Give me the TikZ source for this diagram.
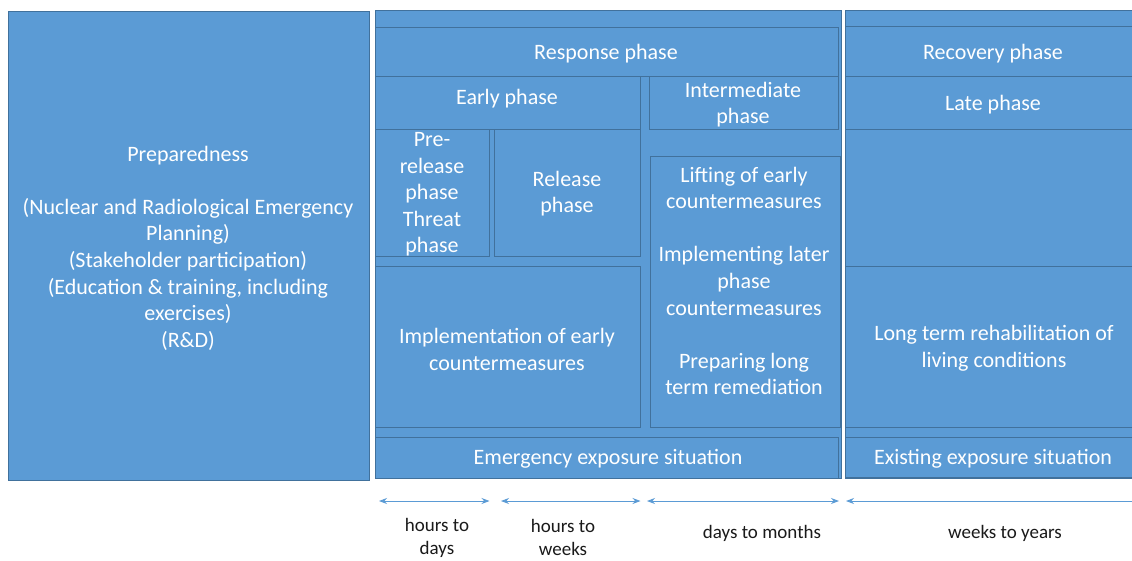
\documentclass[tikz,border=0pt]{standalone}
\usepackage{fontspec}
\setmainfont{Carlito}
\usetikzlibrary{arrows.meta}
\definecolor{boxfill}{HTML}{5B9BD5}
\definecolor{boxline}{HTML}{41719C}
\definecolor{labtext}{HTML}{1A1A1A}
\begin{document}
\begin{tikzpicture}[x=1pt,y=-1pt,
  cell/.style={draw=boxline,fill=boxfill,line width=0.9pt},
  celltext/.style={text=white,font=\fontsize{22}{26.6}\selectfont,align=center,inner sep=0pt,yshift=-2pt},
  lab/.style={text=labtext,font=\fontsize{19}{23}\selectfont,align=center,inner sep=0pt,yshift=-1.5pt},
  span/.style={draw=boxfill,line width=0.9pt},
  tip/.tip={Stealth[length=8pt,width=6pt]}]
\useasboundingbox (0,0) rectangle (1132,560);
\fill[white] (0,0) rectangle (1132,560);

% big containers
\draw[cell] (8,11) rectangle (369,480);
\draw[cell] (375,10) rectangle (841.5,478);
\draw[cell] (845.5,10) rectangle (1140,478);

% middle column cells
\draw[cell] (375,27) rectangle (838,76);
\draw[cell] (375,76) rectangle (640.5,129);
\draw[cell] (649.5,76) rectangle (838,129);
\draw[cell] (375,129) rectangle (489,256);
\draw[cell] (494,129) rectangle (640.5,256);
\draw[cell] (375,266.5) rectangle (640.5,427.5);
\draw[cell] (650,156) rectangle (840.5,427);
\draw[cell] (375,437.5) rectangle (838,478);

% right column cells
\draw[cell] (845.5,26.5) rectangle (1140,76);
\draw[cell] (845.5,76) rectangle (1140,129);
\draw[cell] (845.5,129) rectangle (1140,266);
\draw[cell] (845.5,266) rectangle (1140,427);
\draw[cell] (845.5,437) rectangle (1140,477);

% texts
\node[celltext] (prep) at (188,246) {Preparedness\\[26.6pt](Nuclear and Radiological Emergency\\Planning)\\(Stakeholder participation)\\(Education \& training, including\\exercises)\\(R\&D)};
\node[celltext] (resp) at (606,52) {Response phase};
\node[celltext] (early) at (507,97) {Early phase};
\node[celltext] (inter) at (743,102.5) {Intermediate\\phase};
\node[celltext] (pre) at (432,192.5) {Pre-\\release\\phase\\Threat\\phase};
\node[celltext] (rel) at (567,191.5) {Release\\phase};
\node[celltext] (lift) at (744,279) {Lifting of early\\countermeasures\\[26.6pt]Implementing later\\phase\\countermeasures\\[26.6pt]Preparing long\\term remediation};
\node[celltext] (impl) at (507,347.5) {Implementation of early\\countermeasures};
\node[celltext] (rec) at (993,52) {Recovery phase};
\node[celltext] (late) at (993,103) {Late phase};
\node[celltext] (long) at (994,346.5) {Long term rehabilitation of\\living conditions};
\node[celltext] (emer) at (608,457) {Emergency exposure situation};
\node[celltext] (exist) at (993,457) {Existing exposure situation};

% time spans
\coordinate (a1) at (379,501); \coordinate (b1) at (489.5,501);
\coordinate (a2) at (501,501); \coordinate (b2) at (640.5,501);
\coordinate (a3) at (647,501); \coordinate (b3) at (839,501);
\coordinate (a4) at (846,501); \coordinate (b4) at (1140,501);
\draw[span,tip-tip] (a1) -- (b1);
\draw[span,tip-tip] (a2) -- (b2);
\draw[span,tip-tip] (a3) -- (b3);
\draw[span,tip-] (a4) -- (b4);

\node[lab] (t1) at (437,536.5) {hours to\\days};
\node[lab] (t2) at (563,535.5) {hours to\\weeks};
\node[lab] (t3) at (762,532) {days to months};
\node[lab] (t4) at (1005,532) {weeks to years};
\end{tikzpicture}
\end{document}
